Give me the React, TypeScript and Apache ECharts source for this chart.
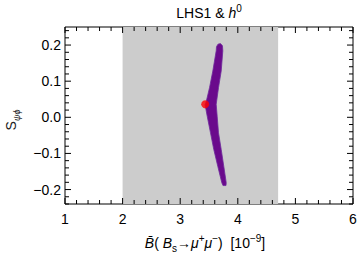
import React, { useEffect, useRef } from "react";
import * as echarts from "echarts";

const xTickValues = [1, 2, 3, 4, 5, 6];
const xMinorTickValues = [
  1.2, 1.4, 1.6, 1.8, 2.2, 2.4, 2.6, 2.8, 3.2, 3.4, 3.6, 3.8,
  4.2, 4.4, 4.6, 4.8, 5.2, 5.4, 5.6, 5.8,
];
const yTickValues = [-0.2, -0.1, 0, 0.1, 0.2];
const yMinorTickValues = [
  -0.24, -0.22, -0.18, -0.16, -0.14, -0.12, -0.08, -0.06, -0.04, -0.02,
  0.02, 0.04, 0.06, 0.08, 0.12, 0.14, 0.16, 0.18, 0.22, 0.24,
];
// experimental band (x range)
const bandRange = [[2, 4.7]];
// scan region outline: left edge (top -> bottom) then right edge (bottom -> top)
const scanLeftEdge = [
  [3.656, 0.2025], [3.630, 0.1955], [3.625, 0.184], [3.566, 0.128], [3.509, 0.082],
  [3.451, 0.043], [3.431, 0.035], [3.448, 0.021], [3.469, 0.003], [3.526, -0.043],
  [3.583, -0.089], [3.653, -0.136], [3.722, -0.181], [3.743, -0.189],
];
const scanRightEdge = [
  [3.795, -0.189], [3.799, -0.181], [3.757, -0.136], [3.712, -0.089], [3.665, -0.043],
  [3.642, 0.003], [3.625, 0.036], [3.665, 0.082], [3.712, 0.128], [3.740, 0.184],
  [3.734, 0.198], [3.700, 0.204],
];
const smPoint = [[3.434, 0.036]];

const X_MIN = 1, X_MAX = 6, Y_MIN = -0.24, Y_MAX = 0.25;
const FONT = "Liberation Sans";

function tickSeries(name: string, values: number[], dim: "x" | "y", len: number) {
  return {
    type: "custom",
    name,
    xAxisIndex: 0,
    yAxisIndex: 0,
    z: 6,
    silent: true,
    data: values.map((v) => (dim === "x" ? [v, 0] : [X_MIN, v])),
    renderItem: (params: any, api: any) => {
      const cs = params.coordSys;
      const st = { stroke: "#000", lineWidth: 1 };
      if (dim === "x") {
        const p = api.coord([api.value(0), 0]);
        const yb = cs.y + cs.height;
        return {
          type: "group",
          children: [
            { type: "line", shape: { x1: p[0], y1: yb, x2: p[0], y2: yb - len }, style: st },
            { type: "line", shape: { x1: p[0], y1: cs.y, x2: p[0], y2: cs.y + len }, style: st },
          ],
        };
      }
      const p = api.coord([X_MIN, api.value(1)]);
      const xr = cs.x + cs.width;
      return {
        type: "group",
        children: [
          { type: "line", shape: { x1: cs.x, y1: p[1], x2: cs.x + len, y2: p[1] }, style: st },
          { type: "line", shape: { x1: xr, y1: p[1], x2: xr - len, y2: p[1] }, style: st },
        ],
      };
    },
  };
}

export default function App() {
  const ref = useRef<HTMLDivElement>(null);
  useEffect(() => {
    if (!ref.current) return;
    const chart = echarts.init(ref.current, undefined, { renderer: "svg" });
    const outline = [...scanLeftEdge, ...scanRightEdge];
    const fmt = (v: number) => (v < 0 ? "\u2212" + Math.abs(v).toFixed(1) : v.toFixed(1));
    chart.setOption({
      animation: false,
      backgroundColor: "#fff",
      grid: {
        left: 65, right: 7, top: 27, bottom: 52, outerBoundsMode: "none",
        show: true, borderColor: "#000", borderWidth: 1, backgroundColor: "transparent",
      },
      xAxis: {
        type: "value",
        min: X_MIN,
        max: X_MAX,
        interval: 1,
        splitLine: { show: false },
        axisLine: { show: false, onZero: false },
        axisTick: { show: false },
        axisLabel: { show: true, margin: 8, fontFamily: FONT, fontSize: 14, color: "#000", customValues: xTickValues },
      },
      yAxis: {
        type: "value",
        min: Y_MIN,
        max: Y_MAX,
        splitLine: { show: false },
        axisLine: { show: false, onZero: false },
        axisTick: { show: false },
        axisLabel: { show: true, margin: 4, fontFamily: FONT, fontSize: 14, color: "#000", customValues: yTickValues, formatter: fmt },
      },
      series: [
        {
          type: "custom",
          name: "band",
          xAxisIndex: 0,
          yAxisIndex: 0,
          z: 1,
          silent: true,
          data: bandRange,
          renderItem: (params: any, api: any) => {
            const cs = params.coordSys;
            const p1 = api.coord([api.value(0), Y_MAX]);
            const p2 = api.coord([api.value(1), Y_MIN]);
            return {
              type: "rect",
              shape: { x: p1[0], y: cs.y, width: p2[0] - p1[0], height: cs.height },
              style: { fill: "#cccccc" },
            };
          },
        },
        {
          type: "custom",
          name: "scan",
          xAxisIndex: 0,
          yAxisIndex: 0,
          z: 2,
          silent: true,
          data: outline,
          renderItem: (params: any, api: any) => {
            if (params.dataIndex !== 0) return null;
            const pts = outline.map((p) => api.coord(p));
            return {
              type: "polygon",
              shape: { points: pts, smooth: 0 },
              style: { fill: "#6a0a8c", stroke: "#6e2a9c", lineWidth: 0.8 },
            };
          },
        },
        {
          type: "scatter",
          name: "SM",
          xAxisIndex: 0,
          yAxisIndex: 0,
          z: 3,
          symbol: "circle",
          symbolSize: 8,
          itemStyle: { color: "#ff0000" },
          data: smPoint,
        },
        tickSeries("xMajorTicks", xTickValues, "x", 6),
        tickSeries("xMinorTicks", xMinorTickValues, "x", 4),
        tickSeries("yMajorTicks", yTickValues, "y", 6),
        tickSeries("yMinorTicks", yMinorTickValues, "y", 4),
      ],
      graphic: [
        {
          type: "text",
          x: 209,
          y: 13,
          style: {
            text: "{n|LHS1 & }{i|h}{sup|0}",
            align: "center",
            verticalAlign: "middle",
            fill: "#000",
            rich: {
              n: { fontFamily: FONT, fontSize: 14, lineHeight: 20, verticalAlign: "middle", fill: "#000" },
              i: { fontFamily: FONT, fontSize: 14, fontStyle: "italic", lineHeight: 20, verticalAlign: "middle", fill: "#000" },
              sup: { fontFamily: FONT, fontSize: 10, lineHeight: 11, verticalAlign: "top", fill: "#000" },
            },
          },
        },
        {
          type: "text",
          x: 205,
          y: 243,
          style: {
            text:
              "{i|B\u0304}{n|( }{i|B}{sub|s}{n|\u2192}{i|\u03bc}{sup|+}{i|\u03bc}{sup|\u2212}{n|)  [10}{sup|\u22129}{n|]}",
            align: "center",
            verticalAlign: "middle",
            fill: "#000",
            rich: {
              n: { fontFamily: FONT, fontSize: 14, lineHeight: 20, verticalAlign: "middle", fill: "#000" },
              i: { fontFamily: FONT, fontSize: 14, fontStyle: "italic", lineHeight: 20, verticalAlign: "middle", fill: "#000" },
              sup: { fontFamily: FONT, fontSize: 10, lineHeight: 11, verticalAlign: "top", fill: "#000" },
              sub: { fontFamily: FONT, fontSize: 10, lineHeight: 11, verticalAlign: "bottom", fill: "#000" },
            },
          },
        },
        {
          type: "text",
          x: 11,
          y: 120,
          rotation: Math.PI / 2,
          style: {
            text: "{n|S}{sub|\u03c8\u03d5}",
            align: "center",
            verticalAlign: "middle",
            fill: "#000",
            rich: {
              n: { fontFamily: FONT, fontSize: 14, lineHeight: 20, verticalAlign: "middle", fill: "#222" },
              sub: { fontFamily: FONT, fontSize: 9, fontStyle: "italic", lineHeight: 11, verticalAlign: "bottom", fill: "#222" },
            },
          },
        },
      ],
    });
    return () => chart.dispose();
  }, []);
  return <div ref={ref} style={{ width: 360, height: 256, position: "absolute", left: 0, top: 0 }} />;
}
